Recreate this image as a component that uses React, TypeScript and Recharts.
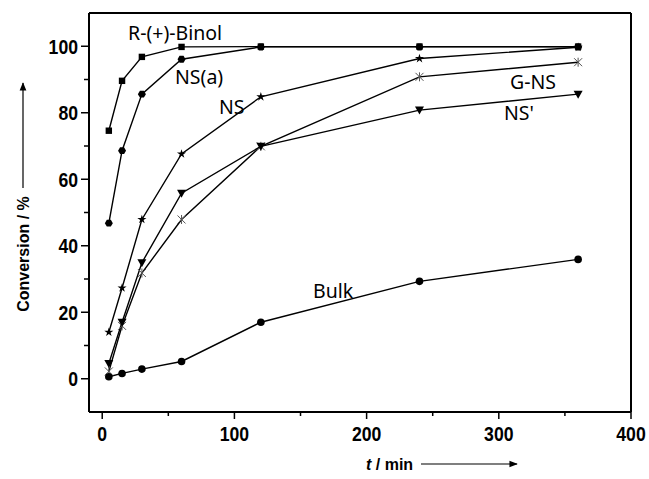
import React from 'react';
import { LineChart, Line, XAxis, YAxis, ReferenceLine } from 'recharts';

// --- DATA ---
const times = [5, 15, 30, 60, 120, 240, 360];
const binol = [74.6, 89.6, 96.8, 99.8, 99.9, 99.9, 99.9];
const nsA = [46.8, 68.6, 85.6, 96.1, 99.8, 99.8, 99.8];
const ns = [14, 27.3, 47.9, 67.6, 84.8, 96.3, 99.7];
const gns = [2.2, 15.9, 31.8, 47.9, 69.9, 90.8, 95.2];
const nsPrime = [4.6, 17, 34.9, 55.8, 69.9, 80.8, 85.6];
const bulk = [0.6, 1.6, 2.9, 5.2, 17, 29.3, 35.9];

const xTicks = [0, 50, 100, 150, 200, 250, 300, 350, 400];
const yTicks = [0, 10, 20, 30, 40, 50, 60, 70, 80, 90, 100];

const rows = times.map((t, i) => ({
  t,
  binol: binol[i],
  nsA: nsA[i],
  ns: ns[i],
  gns: gns[i],
  nsPrime: nsPrime[i],
  bulk: bulk[i],
}));

const tickFont = "'Liberation Sans', Arial, sans-serif";
const labelFont = "'Noto Sans', 'Open Sans', sans-serif";

// --- TICKS ---
// labels are squeezed a little to look like the condensed face of the original
const XTick = (props: any) => {
  const { x, y, payload } = props;
  const major = payload.value % 100 === 0;
  return (
    <g>
      <line x1={x} x2={x} y1={y} y2={y + (major ? 7 : 4)} stroke="#000" strokeWidth={1.5} />
      {major && (
        <text
          transform={`translate(${x},${y + 29}) scale(0.84,1)`}
          textAnchor="middle"
          fontFamily={tickFont}
          fontWeight="bold"
          fontSize={21}
          fill="#000"
        >
          {payload.value}
        </text>
      )}
    </g>
  );
};

const YTick = (props: any) => {
  const { x, y, payload } = props;
  const major = payload.value % 20 === 0;
  return (
    <g>
      <line x1={x} x2={x - (major ? 8 : 5)} y1={y} y2={y} stroke="#000" strokeWidth={1.5} />
      {major && (
        <text
          transform={`translate(${x - 11},${y + 7.5}) scale(0.84,1)`}
          textAnchor="end"
          fontFamily={tickFont}
          fontWeight="bold"
          fontSize={21}
          fill="#000"
        >
          {payload.value}
        </text>
      )}
    </g>
  );
};

// --- MARKERS ---
const star = (cx: number, cy: number) => {
  const pts: string[] = [];
  for (let k = 0; k < 10; k++) {
    const r = k % 2 === 0 ? 4.8 : 1.8;
    const a = -Math.PI / 2 + (k * Math.PI) / 5;
    pts.push(`${cx + r * Math.cos(a)},${cy + r * Math.sin(a)}`);
  }
  return pts.join(' ');
};

const hexagon = (cx: number, cy: number, r: number) => {
  const pts: string[] = [];
  for (let k = 0; k < 6; k++) {
    const a = (k * Math.PI) / 3;
    pts.push(`${cx + r * Math.cos(a)},${cy + r * Math.sin(a)}`);
  }
  return pts.join(' ');
};

const makeDot = (shape: string) => (props: any) => {
  const { cx, cy, key, index } = props;
  const k = key ?? `${shape}-${index}`;
  if (cx == null || cy == null) return <g key={k} />;
  switch (shape) {
    case 'square':
      return <rect key={k} x={cx - 3.2} y={cy - 3.2} width={6.4} height={6.4} fill="#000" />;
    case 'hex':
      return <polygon key={k} points={hexagon(cx, cy, 4)} fill="#000" />;
    case 'star':
      return <polygon key={k} points={star(cx, cy)} fill="#000" />;
    case 'asterisk':
      return (
        <g key={k} stroke="#555" strokeWidth={1}>
          <line x1={cx - 4} y1={cy - 4} x2={cx + 4} y2={cy + 4} />
          <line x1={cx - 4} y1={cy + 4} x2={cx + 4} y2={cy - 4} />
          <line x1={cx} y1={cy - 4.5} x2={cx} y2={cy + 4.5} />
        </g>
      );
    case 'triangle':
      return <polygon key={k} points={`${cx - 4.5},${cy - 3.5} ${cx + 4.5},${cy - 3.5} ${cx},${cy + 4.5}`} fill="#000" />;
    default:
      return <circle key={k} cx={cx} cy={cy} r={3.8} fill="#000" />;
  }
};

const series = [
  { key: 'binol', shape: 'square' },
  { key: 'nsA', shape: 'hex' },
  { key: 'ns', shape: 'star' },
  { key: 'gns', shape: 'asterisk' },
  { key: 'nsPrime', shape: 'triangle' },
  { key: 'bulk', shape: 'circle' },
];

const App: React.FC = () => {
  return (
    <div style={{ position: 'absolute', left: 0, top: 0, width: 649, height: 479, background: '#fff' }}>
      <LineChart width={649} height={479} data={rows} margin={{ top: 13, right: 18, bottom: 37, left: 29 }}>
        <XAxis
          type="number"
          dataKey="t"
          domain={[-10, 400]}
          ticks={xTicks}
          interval={0}
          height={30}
          tickSize={0}
          tickMargin={0}
          tickLine={false}
          tick={<XTick />}
          axisLine={{ stroke: '#000', strokeWidth: 2 }}
        />
        <YAxis
          type="number"
          domain={[-10, 110]}
          ticks={yTicks}
          interval={0}
          width={60}
          tickSize={0}
          tickMargin={0}
          tickLine={false}
          tick={<YTick />}
          axisLine={{ stroke: '#000', strokeWidth: 2 }}
        />
        <ReferenceLine y={110} stroke="#000" strokeWidth={2} />
        <ReferenceLine x={400} stroke="#000" strokeWidth={2} />
        {series.map((s) => (
          <Line
            key={s.key}
            type="linear"
            dataKey={s.key}
            stroke="#000"
            strokeWidth={1.4}
            dot={makeDot(s.shape)}
            activeDot={false}
            isAnimationActive={false}
          />
        ))}
      </LineChart>
      <svg width={649} height={479} style={{ position: 'absolute', left: 0, top: 0, pointerEvents: 'none' }}>
        <defs>
          <marker id="arrow" viewBox="0 0 10 10" refX="9" refY="5" markerWidth="7" markerHeight="7" orient="auto">
            <path d="M0,1 L10,5 L0,9 z" fill="#000" />
          </marker>
        </defs>
        <g fontFamily={labelFont} fontSize={19.5} fill="#000" dominantBaseline="central">
          <text x={128} y={32}>R-(+)-Binol</text>
          <text x={175} y={76}>NS(a)</text>
          <text x={219} y={106}>NS</text>
          <text x={510} y={81}>G-NS</text>
          <text x={504} y={112}>NS'</text>
          <text x={313} y={290}>Bulk</text>
        </g>
        <text
          transform="translate(29,254) rotate(-90)"
          textAnchor="middle"
          fontFamily="'Liberation Sans', Arial, sans-serif"
          fontWeight="bold"
          fontSize={16}
          fill="#000"
        >
          Conversion / %
        </text>
        <line x1={23} y1={188} x2={23} y2={83} stroke="#000" strokeWidth={1.2} markerEnd="url(#arrow)" />
        <text x={366} y={470} fontFamily="'Liberation Sans', Arial, sans-serif" fontWeight="bold" fontSize={16} fill="#000">
          <tspan fontStyle="italic">t</tspan> / min
        </text>
        <line x1={421} y1={464} x2={517} y2={464} stroke="#000" strokeWidth={1.2} markerEnd="url(#arrow)" />
      </svg>
    </div>
  );
};

export default App;
